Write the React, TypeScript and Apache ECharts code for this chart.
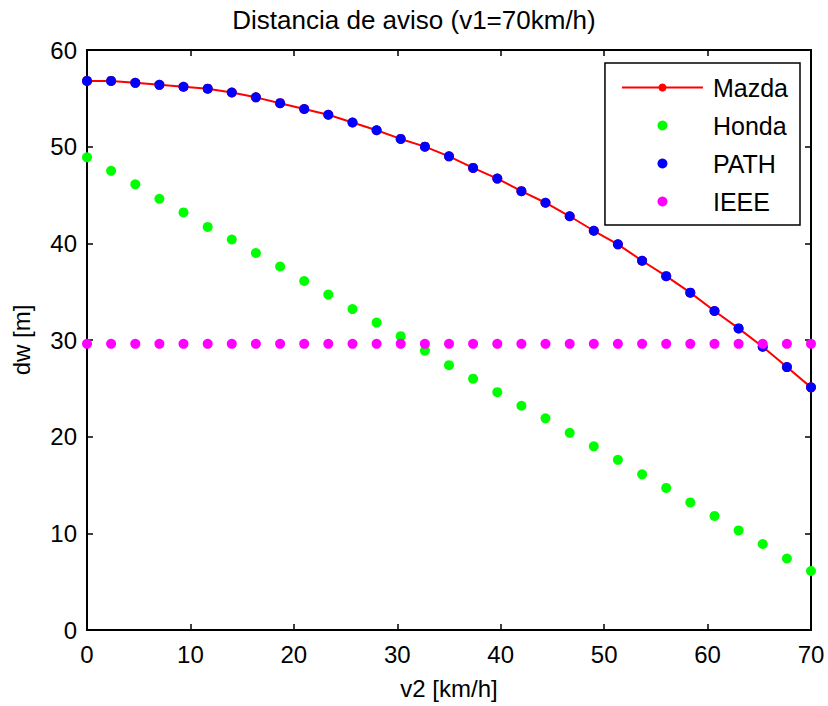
import React, { useEffect, useRef } from "react";
import * as echarts from "echarts";

const titleText = "Distancia de aviso (v1=70km/h)";
const xName = "v2 [km/h]";
const yName = "dw [m]";
const seriesNames = ["Mazda", "Honda", "PATH", "IEEE"];

const v2 = [0, 2.33, 4.67, 7, 9.33, 11.67, 14, 16.33, 18.67, 21, 23.33, 25.67, 28, 30.33, 32.67, 35, 37.33, 39.67, 42, 44.33, 46.67, 49, 51.33, 53.67, 56, 58.33, 60.67, 63, 65.33, 67.67, 70];
const mazda = [56.8, 56.8, 56.6, 56.4, 56.2, 56.0, 55.6, 55.1, 54.5, 53.9, 53.3, 52.5, 51.7, 50.8, 50.0, 49.0, 47.8, 46.7, 45.4, 44.2, 42.8, 41.3, 39.9, 38.2, 36.6, 34.9, 33.0, 31.2, 29.3, 27.2, 25.1];
const honda = [48.9, 47.5, 46.1, 44.6, 43.2, 41.7, 40.4, 39.0, 37.6, 36.1, 34.7, 33.2, 31.8, 30.4, 28.9, 27.4, 26.0, 24.6, 23.2, 21.9, 20.4, 19.0, 17.6, 16.1, 14.7, 13.2, 11.8, 10.3, 8.9, 7.4, 6.1];
const pathVals = [56.8, 56.8, 56.6, 56.4, 56.2, 56.0, 55.6, 55.1, 54.5, 53.9, 53.3, 52.5, 51.7, 50.8, 50.0, 49.0, 47.8, 46.7, 45.4, 44.2, 42.8, 41.3, 39.9, 38.2, 36.6, 34.9, 33.0, 31.2, 29.3, 27.2, 25.1];
const ieee = [29.6, 29.6, 29.6, 29.6, 29.6, 29.6, 29.6, 29.6, 29.6, 29.6, 29.6, 29.6, 29.6, 29.6, 29.6, 29.6, 29.6, 29.6, 29.6, 29.6, 29.6, 29.6, 29.6, 29.6, 29.6, 29.6, 29.6, 29.6, 29.6, 29.6, 29.6];

const FONT = "'Liberation Sans', Arial, Helvetica, sans-serif";

function pairs(ys: number[]) {
  return ys.map((y, i) => [v2[i], y]);
}

export default function App() {
  const ref = useRef<HTMLDivElement>(null);
  useEffect(() => {
    if (!ref.current) return;
    const chart = echarts.init(ref.current, null, { renderer: "svg" });
    const axisLine = { show: true, onZero: false, lineStyle: { color: "#000", width: 2 } };
    const axisTick = { show: true, inside: true, length: 6, lineStyle: { color: "#000", width: 1.5 } };
    chart.setOption({
      animation: false,
      backgroundColor: "#fff",
      textStyle: { fontFamily: FONT },
      title: {
        text: titleText,
        left: "center",
        top: 7,
        padding: 0,
        textStyle: { fontFamily: FONT, fontSize: 26, fontWeight: "normal", color: "#000" },
      },
      grid: { left: 87, right: 17, top: 50, bottom: 76, containLabel: false },
      legend: {
        data: seriesNames,
        orient: "vertical",
        right: 28,
        top: 63,
        padding: [12, 12, 11, 16],
        itemWidth: 81,
        itemHeight: 10,
        itemGap: 13,
        borderColor: "#000",
        borderWidth: 1.5,
        backgroundColor: "#fff",
        textStyle: { fontFamily: FONT, fontSize: 25, color: "#000", padding: [0, 0, 0, 5] },
      },
      xAxis: [
        {
          type: "value",
          min: 0,
          max: 70,
          interval: 10,
          position: "bottom",
          name: xName,
          nameLocation: "middle",
          nameGap: 46,
          nameTextStyle: { fontFamily: FONT, fontSize: 24, color: "#000" },
          axisLine,
          axisTick,
          axisLabel: { fontFamily: FONT, fontSize: 24, color: "#000", margin: 12 },
          splitLine: { show: false },
        },
        {
          type: "value",
          min: 0,
          max: 70,
          interval: 10,
          position: "top",
          axisLine,
          axisTick,
          axisLabel: { show: false },
          splitLine: { show: false },
        },
      ],
      yAxis: [
        {
          type: "value",
          min: 0,
          max: 60,
          interval: 10,
          position: "left",
          name: yName,
          nameLocation: "middle",
          nameGap: 54,
          nameTextStyle: { fontFamily: FONT, fontSize: 24, color: "#000" },
          axisLine,
          axisTick,
          axisLabel: { fontFamily: FONT, fontSize: 24, color: "#000", margin: 10 },
          splitLine: { show: false },
        },
        {
          type: "value",
          min: 0,
          max: 60,
          interval: 10,
          position: "right",
          axisLine,
          axisTick,
          axisLabel: { show: false },
          splitLine: { show: false },
        },
      ],
      series: [
        {
          name: "Mazda",
          type: "line",
          z: 2,
          data: pairs(mazda),
          symbol: "circle",
          symbolSize: 10,
          showSymbol: true,
          lineStyle: { color: "#ff0000", width: 2 },
          itemStyle: { color: "#ff0000" },
        },
        {
          name: "Honda",
          type: "scatter",
          z: 3,
          data: pairs(honda),
          symbol: "circle",
          symbolSize: 10,
          itemStyle: { color: "#00ff00", opacity: 1 },
        },
        {
          name: "PATH",
          type: "scatter",
          z: 4,
          data: pairs(pathVals),
          symbol: "circle",
          symbolSize: 10,
          itemStyle: { color: "#0000ff", opacity: 1 },
        },
        {
          name: "IEEE",
          type: "scatter",
          z: 5,
          data: pairs(ieee),
          symbol: "circle",
          symbolSize: 10,
          itemStyle: { color: "#ff00ff", opacity: 1 },
        },
      ],
    });
    return () => chart.dispose();
  }, []);
  return <div ref={ref} style={{ width: 828, height: 706, position: "absolute", left: 0, top: 0 }} />;
}
